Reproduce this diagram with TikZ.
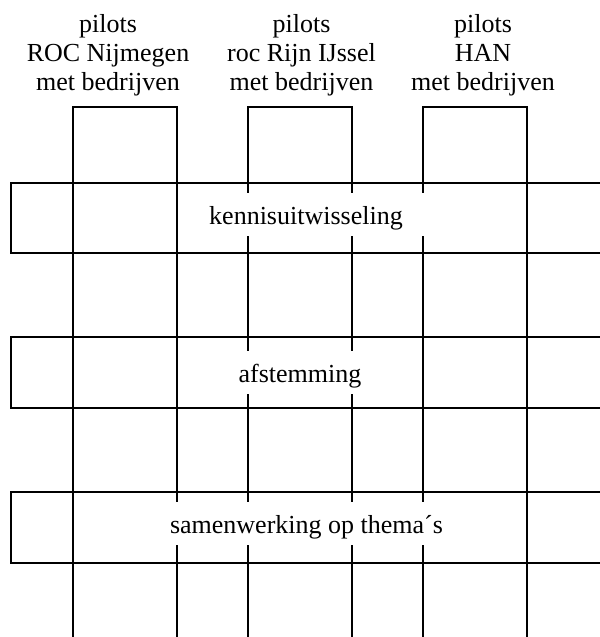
\documentclass[tikz,border=0pt]{standalone}
\usepackage{fontspec}
\setmainfont{Liberation Serif}
\begin{document}
\begin{tikzpicture}[
            x=0.75pt, y=-0.75pt,
            line width=1pt,
            every node/.style={font=\fontsize{19.5}{21.75}\selectfont},
            pilot/.style={align=center, anchor=north, inner sep=0pt},
            bandtext/.style={fill=white, anchor=base, inner xsep=6pt, inner ysep=0pt,
                    text height=23.25pt, text depth=9pt}
        ]
        \clip (0,0) rectangle (600,637);

        \draw (73,637) -- (73,107) -- (177,107) -- (177,637);
        \draw (248,637) -- (248,107) -- (352,107) -- (352,637);
        \draw (423,637) -- (423,107) -- (527,107) -- (527,637);

        \node[pilot] (nijmegen) at (108,14) {pilots\\ROC Nijmegen\\met bedrijven};
        \node[pilot] (rijnijssel) at (301.5,14) {pilots\\roc Rijn IJssel\\met bedrijven};
        \node[pilot] (han) at (483,14) {pilots\\HAN\\met bedrijven};

        \draw (11,183) rectangle (620,253);
        \draw (11,337) rectangle (620,408);
        \draw (11,492) rectangle (620,563);

        \node[bandtext, minimum width=183pt] (kennis) at (306,224) {kennisuitwisseling};
        \node[bandtext] (afstemming) at (300,382) {afstemming};
        \node[bandtext] (samenwerking) at (306.5,533) {samenwerking op thema´s};
    \end{tikzpicture}
\end{document}
